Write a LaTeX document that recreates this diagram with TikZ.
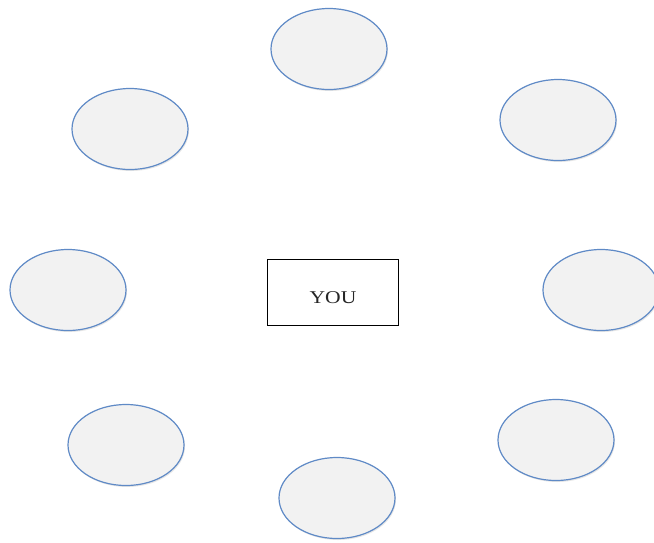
\documentclass[tikz,border=0pt]{standalone}
\usepackage{fontspec}
\usepackage{xcolor}
\usepackage{tikz}
\usetikzlibrary{shapes.geometric,shadows}
\newfontfamily\youfont{Liberation Serif}
\definecolor{ringblue}{HTML}{5F8AC6}
\definecolor{ringfill}{HTML}{F2F2F2}

\begin{document}
\begin{tikzpicture}[
    x=1pt,y=-1pt,
    circlebox/.style={ellipse,draw=ringblue,line width=1.2pt,fill=ringfill,minimum width=116pt,minimum height=81pt,
      drop shadow={opacity=0.2,shadow xshift=1pt,shadow yshift=-1.5pt}},
    youbox/.style={draw=black,line width=0.9pt,fill=white,minimum width=131pt,minimum height=66pt,inner sep=0pt}
  ]
    \useasboundingbox (0,0) rectangle (654,542);
    \node[youbox,label={[yshift=-6pt,font=\youfont\fontsize{18}{21}\selectfont,text=black!85]center:\scalebox{1.2}[1]{YOU}}] (you) at (333,292) {};

    \node[circlebox] (top) at (329,49) {};
    \node[circlebox] (topright) at (558,120) {};
    \node[circlebox] (topleft) at (130,129) {};
    \node[circlebox] (left) at (68,290) {};
    \node[circlebox] (right) at (601,290) {};
    \node[circlebox] (botleft) at (126,445) {};
    \node[circlebox] (botright) at (556,440) {};
    \node[circlebox] (bottom) at (337,498) {};
  \end{tikzpicture}
\end{document}
